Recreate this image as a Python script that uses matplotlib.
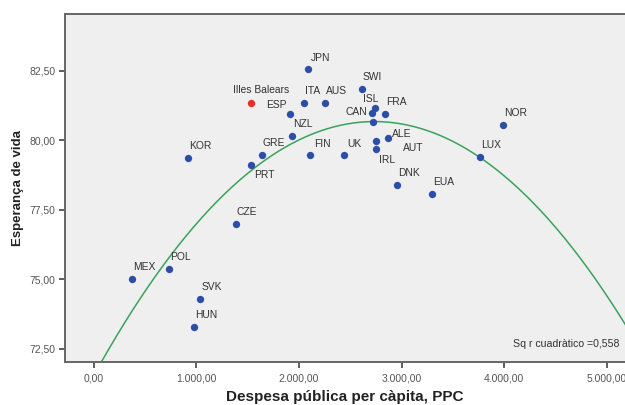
import numpy as np
import matplotlib
matplotlib.use("Agg")
import matplotlib.pyplot as plt
from matplotlib.ticker import FuncFormatter

plt.rcParams['font.family'] = ['Liberation Sans', 'DejaVu Sans']

# OECD countries: public health spending per capita (PPP) vs life expectancy
countries = ['JPN', 'ESP', 'ITA', 'AUS', 'NZL', 'KOR', 'GRE', 'PRT', 'FIN', 'UK',
             'SWI', 'ISL', 'CAN', '', 'FRA', 'NOR', 'ALE', 'AUT', 'IRL', 'LUX',
             'DNK', 'EUA', 'CZE', 'MEX', 'POL', 'SVK', 'HUN']
spending = [2086, 1910, 2050, 2257, 1930, 923, 1638, 1531, 2111, 2436,
            2611, 2741, 2709, 2718, 2838, 3990, 2868, 2751, 2751, 3766,
            2958, 3296, 1385, 372, 732, 1040, 979]
life_exp = [82.56, 80.96, 81.36, 81.36, 80.16, 79.38, 79.49, 79.11, 79.49, 79.49,
            81.85, 81.18, 80.98, 80.67, 80.96, 80.56, 80.08, 79.98, 79.68, 79.40,
            78.39, 78.09, 76.99, 75.01, 75.39, 74.31, 73.30]

region_name = 'Illes Balears'
region_spending = 1531
region_life_exp = 81.36

# quadratic fit y = b0 + b1*x + b2*x^2
fit_b0 = 71.528
fit_b1 = 0.0066925
fit_b2 = -1.2235e-6
r2_text = 'Sq r cuadràtico =0,558'

# label offsets in pixels (dx, dy), default is up and slightly right
default_off = (1, 12)
label_off = {'Illes Balears': (-18, 13), 'ESP': (-24, 9), 'PRT': (3, -10),
             'ISL': (-12, 9), 'CAN': (-26, 1), 'ALE': (4, 4), 'AUT': (27, -7),
             'IRL': (3, -11), 'JPN': (3, 11), 'FIN': (4, 11), 'UK': (4, 11)}

fig = plt.figure(figsize=(6.25, 4.05), dpi=100)
ax = fig.add_axes([65 / 625, 1 - 362 / 405, 1 - 65 / 625, (362 - 14) / 405])
ax.set_facecolor('#efefef')

xs = np.linspace(-300, 5300, 300)
ax.plot(xs, fit_b0 + fit_b1 * xs + fit_b2 * xs ** 2, color='#3aa35a', lw=1.1, zorder=2)

ax.scatter(spending, life_exp, s=28, color='#2d4ea8', zorder=3, linewidths=0)
ax.scatter([region_spending], [region_life_exp], s=28, color='#e8302a', zorder=3, linewidths=0)

lab_style = dict(fontsize=7.4, color='#333333', ha='left', va='center',
                 textcoords='offset pixels')
for name, xv, yv in zip(countries, spending, life_exp):
    if not name:
        continue
    ax.annotate(name, (xv, yv), xytext=label_off.get(name, default_off), **lab_style)
ax.annotate(region_name, (region_spending, region_life_exp),
            xytext=label_off[region_name], **lab_style)

ax.text(0.99, 0.037, r2_text, transform=ax.transAxes, ha='right', va='bottom',
        fontsize=7.6, color='#333333')

ax.set_xlim(-278, 5175)
ax.set_ylim(72.03, 84.55)
ax.set_xticks([0, 1000, 2000, 3000, 4000, 5000])
ax.set_yticks([72.5, 75, 77.5, 80, 82.5])


def fmt(v, pos):
    s = f'{v:,.2f}'
    return s.replace(',', 'X').replace('.', ',').replace('X', '.')


ax.xaxis.set_major_formatter(FuncFormatter(fmt))
ax.yaxis.set_major_formatter(FuncFormatter(fmt))
ax.tick_params(labelsize=7.5, labelcolor='#555555', color='#444444',
               length=4, width=1.2, direction='out', pad=3)
ax.tick_params(axis='x', pad=4.5)

for side in ['left', 'bottom', 'top']:
    ax.spines[side].set_color('#666666')
    ax.spines[side].set_linewidth(1.4)
ax.spines['right'].set_visible(False)

ax.set_xlabel('Despesa pública per càpita, PPC', fontsize=11, fontweight='bold',
              color='#222222', labelpad=4.5)
ax.set_ylabel('Esperança de vida', fontsize=9.5, fontweight='bold',
              color='#222222', labelpad=4)

fig.savefig('out.png', dpi=100, facecolor='white')
